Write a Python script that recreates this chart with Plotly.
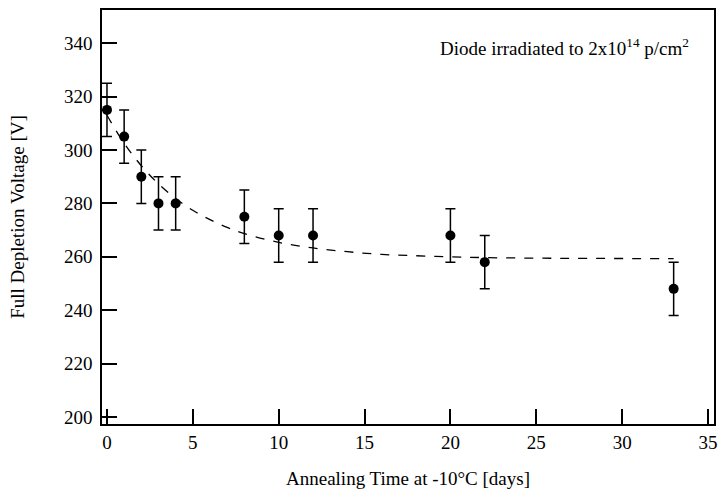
import plotly.graph_objects as go

# Measured data
days = [0, 1, 2, 3, 4, 8, 10, 12, 20, 22, 33]
voltage = [315, 305, 290, 280, 280, 275, 268, 268, 268, 258, 248]
err = [10, 10, 10, 10, 10, 10, 10, 10, 10, 10, 10]

# Fit curve
fit_days = [0, 1, 2, 3, 4, 5, 6, 7, 8, 10, 12, 14, 16, 18, 20, 22, 25, 28, 33]
fit_voltage = [313.0, 302.5, 294.1, 287.3, 281.8, 277.4, 273.9, 271.0, 268.7,
               265.4, 263.3, 261.9, 260.9, 260.4, 260.0, 259.7, 259.5, 259.4, 259.3]

x_ticks = [0, 5, 10, 15, 20, 25, 30, 35]
y_ticks = [200, 220, 240, 260, 280, 300, 320, 340]

FONT = "Liberation Serif"

fig = go.Figure()
fig.add_trace(go.Scatter(
    x=fit_days, y=fit_voltage, mode="lines",
    line=dict(color="black", width=1.3, dash="dash", shape="spline"),
    showlegend=False, hoverinfo="skip"))
fig.add_trace(go.Scatter(
    x=days, y=voltage, mode="markers",
    marker=dict(color="black", size=10),
    error_y=dict(type="data", array=err, visible=True, color="black",
                 thickness=1.5, width=5),
    showlegend=False))

fig.update_layout(
    width=722, height=493,
    margin=dict(l=102, r=5, t=10, b=69),
    paper_bgcolor="white", plot_bgcolor="white",
    font=dict(family=FONT, color="black", size=19),
    xaxis=dict(range=[-0.29, 35.35], tickvals=x_ticks,
               ticks="inside", ticklen=15, tickwidth=1.5, tickcolor="black",
               showline=True, linecolor="black", linewidth=1.5, mirror=True,
               showgrid=False, zeroline=False,
               tickfont=dict(family=FONT, size=19),
               title=dict(text="Annealing Time at -10°C [days]",
                          font=dict(family=FONT, size=19), standoff=20)),
    yaxis=dict(range=[197.4, 352.4], tickvals=y_ticks,
               ticks="inside", ticklen=15, tickwidth=1.5, tickcolor="black",
               showline=True, linecolor="black", linewidth=1.5, mirror=True,
               showgrid=False, zeroline=False,
               ticklabelstandoff=4,
               tickfont=dict(family=FONT, size=19),
               title=dict(text="Full Depletion Voltage [V]",
                          font=dict(family=FONT, size=19), standoff=34)),
    annotations=[dict(
        text="Diode irradiated to 2x10<sup>14</sup> p/cm<sup>2</sup>",
        xref="paper", yref="paper", x=0.962, y=0.91,
        xanchor="right", yanchor="middle", showarrow=False,
        font=dict(family=FONT, size=19))],
)

fig.write_html("out.html")
